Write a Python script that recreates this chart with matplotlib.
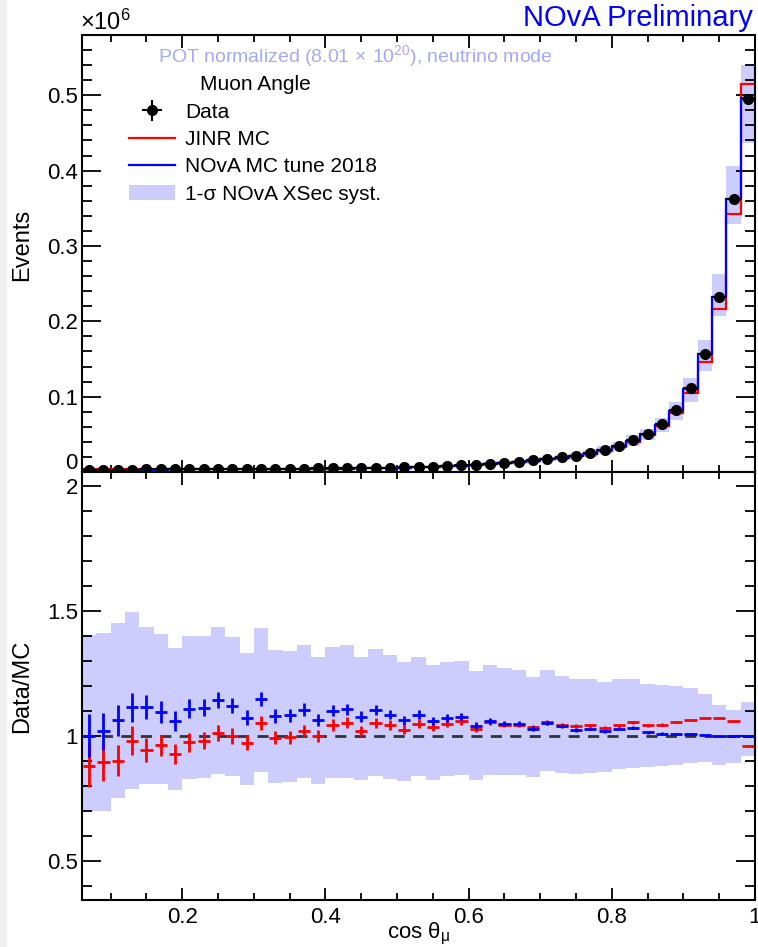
import numpy as np
import matplotlib
matplotlib.use("Agg")
import matplotlib.pyplot as plt
from matplotlib.lines import Line2D
from matplotlib.patches import Patch, Rectangle
from matplotlib.ticker import MultipleLocator, FuncFormatter

plt.rcParams['font.family'] = ['Liberation Sans', 'DejaVu Sans']
plt.rcParams['mathtext.fontset'] = 'custom'
plt.rcParams['mathtext.rm'] = 'Liberation Sans'
plt.rcParams['mathtext.it'] = 'Liberation Sans'
plt.rcParams['mathtext.sf'] = 'Liberation Sans'

NARROW = ['Liberation Sans Narrow', 'Liberation Sans', 'DejaVu Sans']

# cos(theta_mu) binning: 47 bins of 0.02 from 0.06 to 1.0
bin_edges = np.round(np.arange(0.06, 1.0001, 0.02), 4)

# data events (units of 1e6)
data_events = [0.0030, 0.0031, 0.0032, 0.0033, 0.0034, 0.0035, 0.0036, 0.0037, 0.0038, 0.0039,
               0.0040, 0.0041, 0.0042, 0.0043, 0.0044, 0.0046, 0.0047, 0.0049, 0.0051, 0.0053,
               0.0055, 0.0058, 0.0061, 0.0065, 0.0071, 0.0080, 0.0090, 0.0098, 0.0107, 0.0120,
               0.0134, 0.0155, 0.0176, 0.0195, 0.0218, 0.0252, 0.0291, 0.0350, 0.0425, 0.0505,
               0.0635, 0.0820, 0.1110, 0.1570, 0.2320, 0.3620, 0.4950]

# Data/MC ratios
jinr_ratio = [0.880, 0.893, 0.900, 0.980, 0.944, 0.961, 0.927, 0.973, 0.979, 1.011,
              0.999, 0.971, 1.051, 0.992, 0.994, 1.019, 0.999, 1.042, 1.051, 1.019,
              1.052, 1.042, 1.024, 1.048, 1.033, 1.048, 1.057, 1.027, 1.053, 1.044,
              1.044, 1.035, 1.053, 1.044, 1.040, 1.041, 1.031, 1.041, 1.053, 1.041,
              1.044, 1.055, 1.064, 1.072, 1.071, 1.057, 0.960]
nova_ratio = [1.000, 1.017, 1.061, 1.114, 1.114, 1.095, 1.057, 1.108, 1.112, 1.142,
              1.120, 1.072, 1.148, 1.078, 1.081, 1.104, 1.064, 1.100, 1.105, 1.076,
              1.104, 1.084, 1.061, 1.084, 1.057, 1.071, 1.075, 1.040, 1.057, 1.048,
              1.048, 1.028, 1.051, 1.037, 1.024, 1.028, 1.017, 1.028, 1.032, 1.013,
              1.008, 1.008, 1.008, 1.004, 0.998, 0.998, 0.998]
ratio_err = [0.087, 0.073, 0.063, 0.058, 0.048, 0.043, 0.040, 0.037, 0.034, 0.033,
             0.031, 0.030, 0.028, 0.027, 0.026, 0.025, 0.024, 0.023, 0.022, 0.021,
             0.020, 0.019, 0.018, 0.017, 0.016, 0.015, 0.014, 0.013, 0.012, 0.011,
             0.010, 0.009, 0.009, 0.008, 0.008, 0.007, 0.007, 0.006, 0.006, 0.005,
             0.005, 0.004, 0.004, 0.003, 0.003, 0.002, 0.002]

# 1-sigma XSec syst band on the ratio
band_hi = [1.402, 1.412, 1.450, 1.496, 1.436, 1.408, 1.352, 1.401, 1.401, 1.434,
           1.396, 1.331, 1.430, 1.342, 1.340, 1.362, 1.315, 1.354, 1.362, 1.315,
           1.349, 1.322, 1.294, 1.315, 1.285, 1.295, 1.301, 1.258, 1.283, 1.271,
           1.265, 1.234, 1.262, 1.239, 1.227, 1.229, 1.215, 1.226, 1.229, 1.206,
           1.202, 1.198, 1.191, 1.167, 1.122, 1.102, 1.135]
band_lo = [0.700, 0.700, 0.750, 0.787, 0.808, 0.808, 0.781, 0.826, 0.830, 0.846,
           0.837, 0.804, 0.854, 0.810, 0.816, 0.829, 0.806, 0.829, 0.832, 0.822,
           0.837, 0.828, 0.820, 0.837, 0.824, 0.837, 0.842, 0.821, 0.844, 0.844,
           0.844, 0.833, 0.857, 0.850, 0.846, 0.850, 0.853, 0.866, 0.872, 0.876,
           0.880, 0.882, 0.890, 0.896, 0.884, 0.890, 0.917]

data = np.array(data_events)
centers = 0.5 * (bin_edges[:-1] + bin_edges[1:])
width = 0.02
jinr_mc = data / np.array(jinr_ratio)
nova_mc = data / np.array(nova_ratio)
syst_lo = data / np.array(band_hi)
syst_hi = data / np.array(band_lo)

BAND = '#ccccff'
fig = plt.figure(figsize=(7.58, 9.47), dpi=100)
fig.patches.append(Rectangle((0, 0), 6 / 758, 1, transform=fig.transFigure,
                             color='#efefef', zorder=0))
ax1 = fig.add_axes([82 / 758, 1 - 472 / 947, 673 / 758, 437 / 947])
ax2 = fig.add_axes([82 / 758, 1 - 900 / 947, 673 / 758, 428 / 947])

# top panel
ax1.bar(centers, syst_hi - syst_lo, bottom=syst_lo, width=width, color=BAND,
        linewidth=0, zorder=1)
ax1.stairs(jinr_mc, bin_edges, color='red', lw=1.6, baseline=None, zorder=2)
ax1.stairs(nova_mc, bin_edges, color='blue', lw=1.6, baseline=None, zorder=3)
h_data = ax1.errorbar(centers, data, xerr=width / 2, yerr=data * np.array(ratio_err),
                      fmt='o', color='black', ms=7, elinewidth=1.5, capsize=0, zorder=4)
ax1.set_xlim(0.06, 1.0)
ax1.set_ylim(0, 0.58)
ax1.set_ylabel('Events', fontsize=17)
ax1.yaxis.set_label_coords(-0.072, 0.52)
ax1.yaxis.set_major_locator(MultipleLocator(0.1))
ax1.yaxis.set_minor_locator(MultipleLocator(0.02))

handles = [h_data, Line2D([], [], color='red', lw=1.6), Line2D([], [], color='blue', lw=1.6),
           Patch(facecolor=BAND, edgecolor='none')]
labels = ['Data', 'JINR MC', 'NOvA MC tune 2018', '1-σ NOvA XSec syst.']
leg = ax1.legend(handles, labels, title='Muon Angle', loc='upper left',
                 bbox_to_anchor=(0.07, 0.908), frameon=False, fontsize=15,
                 title_fontsize=15, handlelength=2.2, handletextpad=0.48,
                 labelspacing=0.4, borderpad=0, borderaxespad=0)

ax1.text(0.113, 0.952, r'POT normalized (8.01$\,\times\,10^{20}$), neutrino mode',
         transform=ax1.transAxes, color='#a8a8f8', fontsize=14, va='center', ha='left')
fig.text(80 / 758, 1 - 22 / 947, r'$\times10^{6}$', fontsize=17, va='center', ha='left')
fig.text(753 / 758, 1 - 18 / 947, 'NOvA Preliminary', color='blue', fontsize=21,
         va='center', ha='right')
# the "0" of the upper axis sits a little above the axis bottom
fig.text(78 / 758, 1 - 463 / 947, '0', fontsize=16, family=NARROW, va='center', ha='right')

# ratio panel
ax2.bar(centers, np.array(band_hi) - np.array(band_lo), bottom=band_lo, width=width,
        color=BAND, linewidth=0, zorder=1)
ax2.axhline(1.0, color='#333333', lw=2, ls=(0, (4, 3)), zorder=2)
ax2.errorbar(centers, jinr_ratio, xerr=0.0085, yerr=ratio_err, fmt='none',
             ecolor='red', elinewidth=2, zorder=3)
ax2.errorbar(centers, nova_ratio, xerr=0.0085, yerr=ratio_err, fmt='none',
             ecolor='blue', elinewidth=2, zorder=4)
ax2.set_xlim(0.06, 1.0)
ax2.set_ylim(0.342, 2.056)
ax2.yaxis.set_major_locator(MultipleLocator(0.5))
ax2.yaxis.set_minor_locator(MultipleLocator(0.1))
ax2.set_ylabel('Data/MC', fontsize=17)
ax2.yaxis.set_label_coords(-0.072, 0.5)
ax2.set_xlabel(r'cos $\theta_{\mu}$', fontsize=16, labelpad=-5)

fmt = FuncFormatter(lambda v, p: '%g' % round(v, 3))
fmt_top = FuncFormatter(lambda v, p: '' if abs(v) < 1e-9 else '%g' % round(v, 3))
for ax in (ax1, ax2):
    ax.xaxis.set_major_locator(MultipleLocator(0.2))
    ax.xaxis.set_minor_locator(MultipleLocator(0.05))
    ax.xaxis.set_major_formatter(fmt)
    ax.yaxis.set_major_formatter(fmt_top if ax is ax1 else fmt)
    ax.tick_params(which='both', direction='in', top=True, right=True, width=1.3)
    ax.tick_params(axis='y', which='major', length=14, pad=3)
    ax.tick_params(axis='y', which='minor', length=7)
    ax.tick_params(axis='x', which='major', length=9, pad=5)
    ax.tick_params(axis='x', which='minor', length=5)
    for lab in ax.get_xticklabels() + ax.get_yticklabels():
        lab.set_family(NARROW)
        lab.set_fontsize(16)
    for s in ax.spines.values():
        s.set_linewidth(1.5)
ax1.set_xticklabels([])

fig.savefig('out.png', dpi=100)
